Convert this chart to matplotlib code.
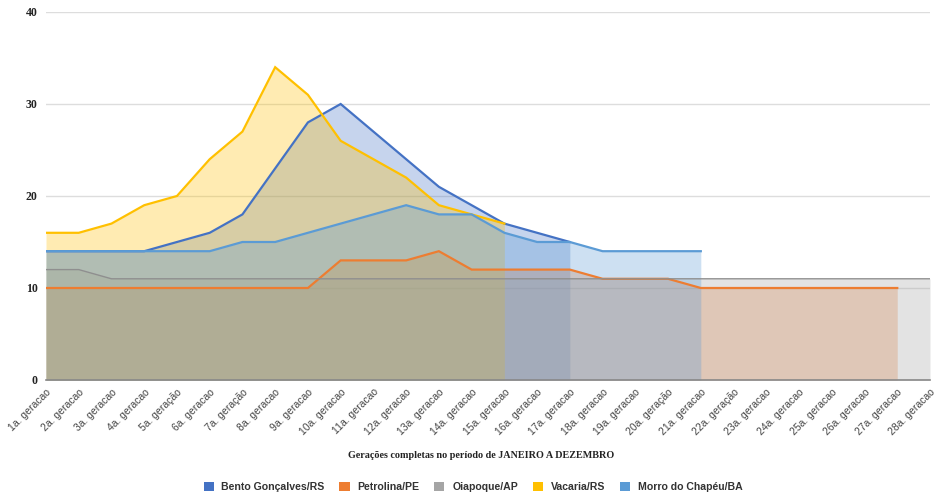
import matplotlib
matplotlib.use("Agg")
import matplotlib.pyplot as plt
from matplotlib.patches import Patch
import numpy as np

# ── dados ──
geracoes = [
    "1a. geracao", "2a. geracao", "3a. geracao", "4a. geracao", "5a. geração",
    "6a. geracao", "7a. geração", "8a. geracao", "9a. geracao", "10a. geracao",
    "11a. geracao", "12a. geracao", "13a. geracao", "14a. geracao", "15a. geracao",
    "16a. geracao", "17a. geracao", "18a. geracao", "19a. geracao", "20a. geração",
    "21a. geracao", "22a. geração", "23a. geracao", "24a. geracao", "25a. geracao",
    "26a. geracao", "27a. geracao", "28a. geracao",
]

bento = [14, 14, 14, 14, 15, 16, 18, 23, 28, 30, 27, 24, 21, 19, 17, 16, 15]
petrolina = [10, 10, 10, 10, 10, 10, 10, 10, 10, 13, 13, 13, 14, 12, 12, 12, 12,
             11, 11, 11, 10, 10, 10, 10, 10, 10, 10]
oiapoque = [12, 12, 11, 11, 11, 11, 11, 11, 11, 11, 11, 11, 11, 11, 11, 11, 11,
            11, 11, 11, 11, 11, 11, 11, 11, 11, 11, 11]
vacaria = [16, 16, 17, 19, 20, 24, 27, 34, 31, 26, 24, 22, 19, 18, 17]
morro = [14, 14, 14, 14, 14, 14, 15, 15, 16, 17, 18, 19, 18, 18, 16, 15, 15,
         14, 14, 14, 14]

series = [
    ("Bento Gonçalves/RS", bento, "#4472C4"),
    ("Petrolina/PE", petrolina, "#ED7D31"),
    ("Oiapoque/AP", oiapoque, "#A5A5A5"),
    ("Vacaria/RS", vacaria, "#FFC000"),
    ("Morro do Chapéu/BA", morro, "#5B9BD5"),
]

fig = plt.figure(figsize=(9.37, 4.95), dpi=100)
ax = fig.add_axes([46 / 937, 1 - 380 / 495, (930 - 46) / 937, (380 - 12) / 495])

# áreas translúcidas primeiro, linhas por cima
for nome, vals, cor in series:
    x = np.arange(len(vals))
    ax.fill_between(x, 0, vals, color=cor, alpha=0.3, linewidth=0)
for nome, vals, cor in series:
    x = np.arange(len(vals))
    if nome == "Oiapoque/AP":
        ax.plot(x, vals, color="#8f8f8f", linewidth=1.0)
    else:
        ax.plot(x, vals, color=cor, linewidth=1.6, solid_joinstyle="miter")

ax.set_xlim(0, len(geracoes) - 1)
ax.set_ylim(0, 40)
ax.set_yticks([0, 10, 20, 30, 40])
ax.yaxis.grid(True, color="#dddddd", linewidth=1)
ax.set_axisbelow(True)
for s in ["top", "right", "left"]:
    ax.spines[s].set_visible(False)
ax.spines["bottom"].set_color("#888888")
ax.spines["bottom"].set_linewidth(1.2)
ax.tick_params(length=0)
ax.tick_params(axis="y", pad=6)

for lbl in ax.get_yticklabels():
    lbl.set_fontfamily("Liberation Serif")
    lbl.set_fontweight("bold")
    lbl.set_fontsize(8.5)
    lbl.set_color("#222222")

ax.set_xticks(np.arange(len(geracoes)))
ax.set_xticklabels(geracoes, rotation=45, ha="right", rotation_mode="anchor",
                   fontsize=7.5, color="#444444", family="Liberation Sans")
ax.tick_params(axis="x", pad=5)

fig.text(481 / 937, 1 - 455 / 495, "Gerações completas no período de JANEIRO A DEZEMBRO",
         ha="center", va="center", fontsize=7.3, fontweight="bold",
         family="Liberation Serif", color="#222222")

handles = [Patch(facecolor=c, edgecolor="none") for _, _, c in series]
leg = fig.legend(handles, [n for n, _, _ in series], loc="center",
                 bbox_to_anchor=(473 / 937, 1 - 487 / 495), ncol=5, frameon=False,
                 prop={"family": "Liberation Sans", "size": 7.6, "weight": "bold"},
                 handlelength=0.95, handleheight=0.95, columnspacing=1.4,
                 handletextpad=0.75)
for t in leg.get_texts():
    t.set_color("#333333")

fig.savefig("out.png", dpi=100)
